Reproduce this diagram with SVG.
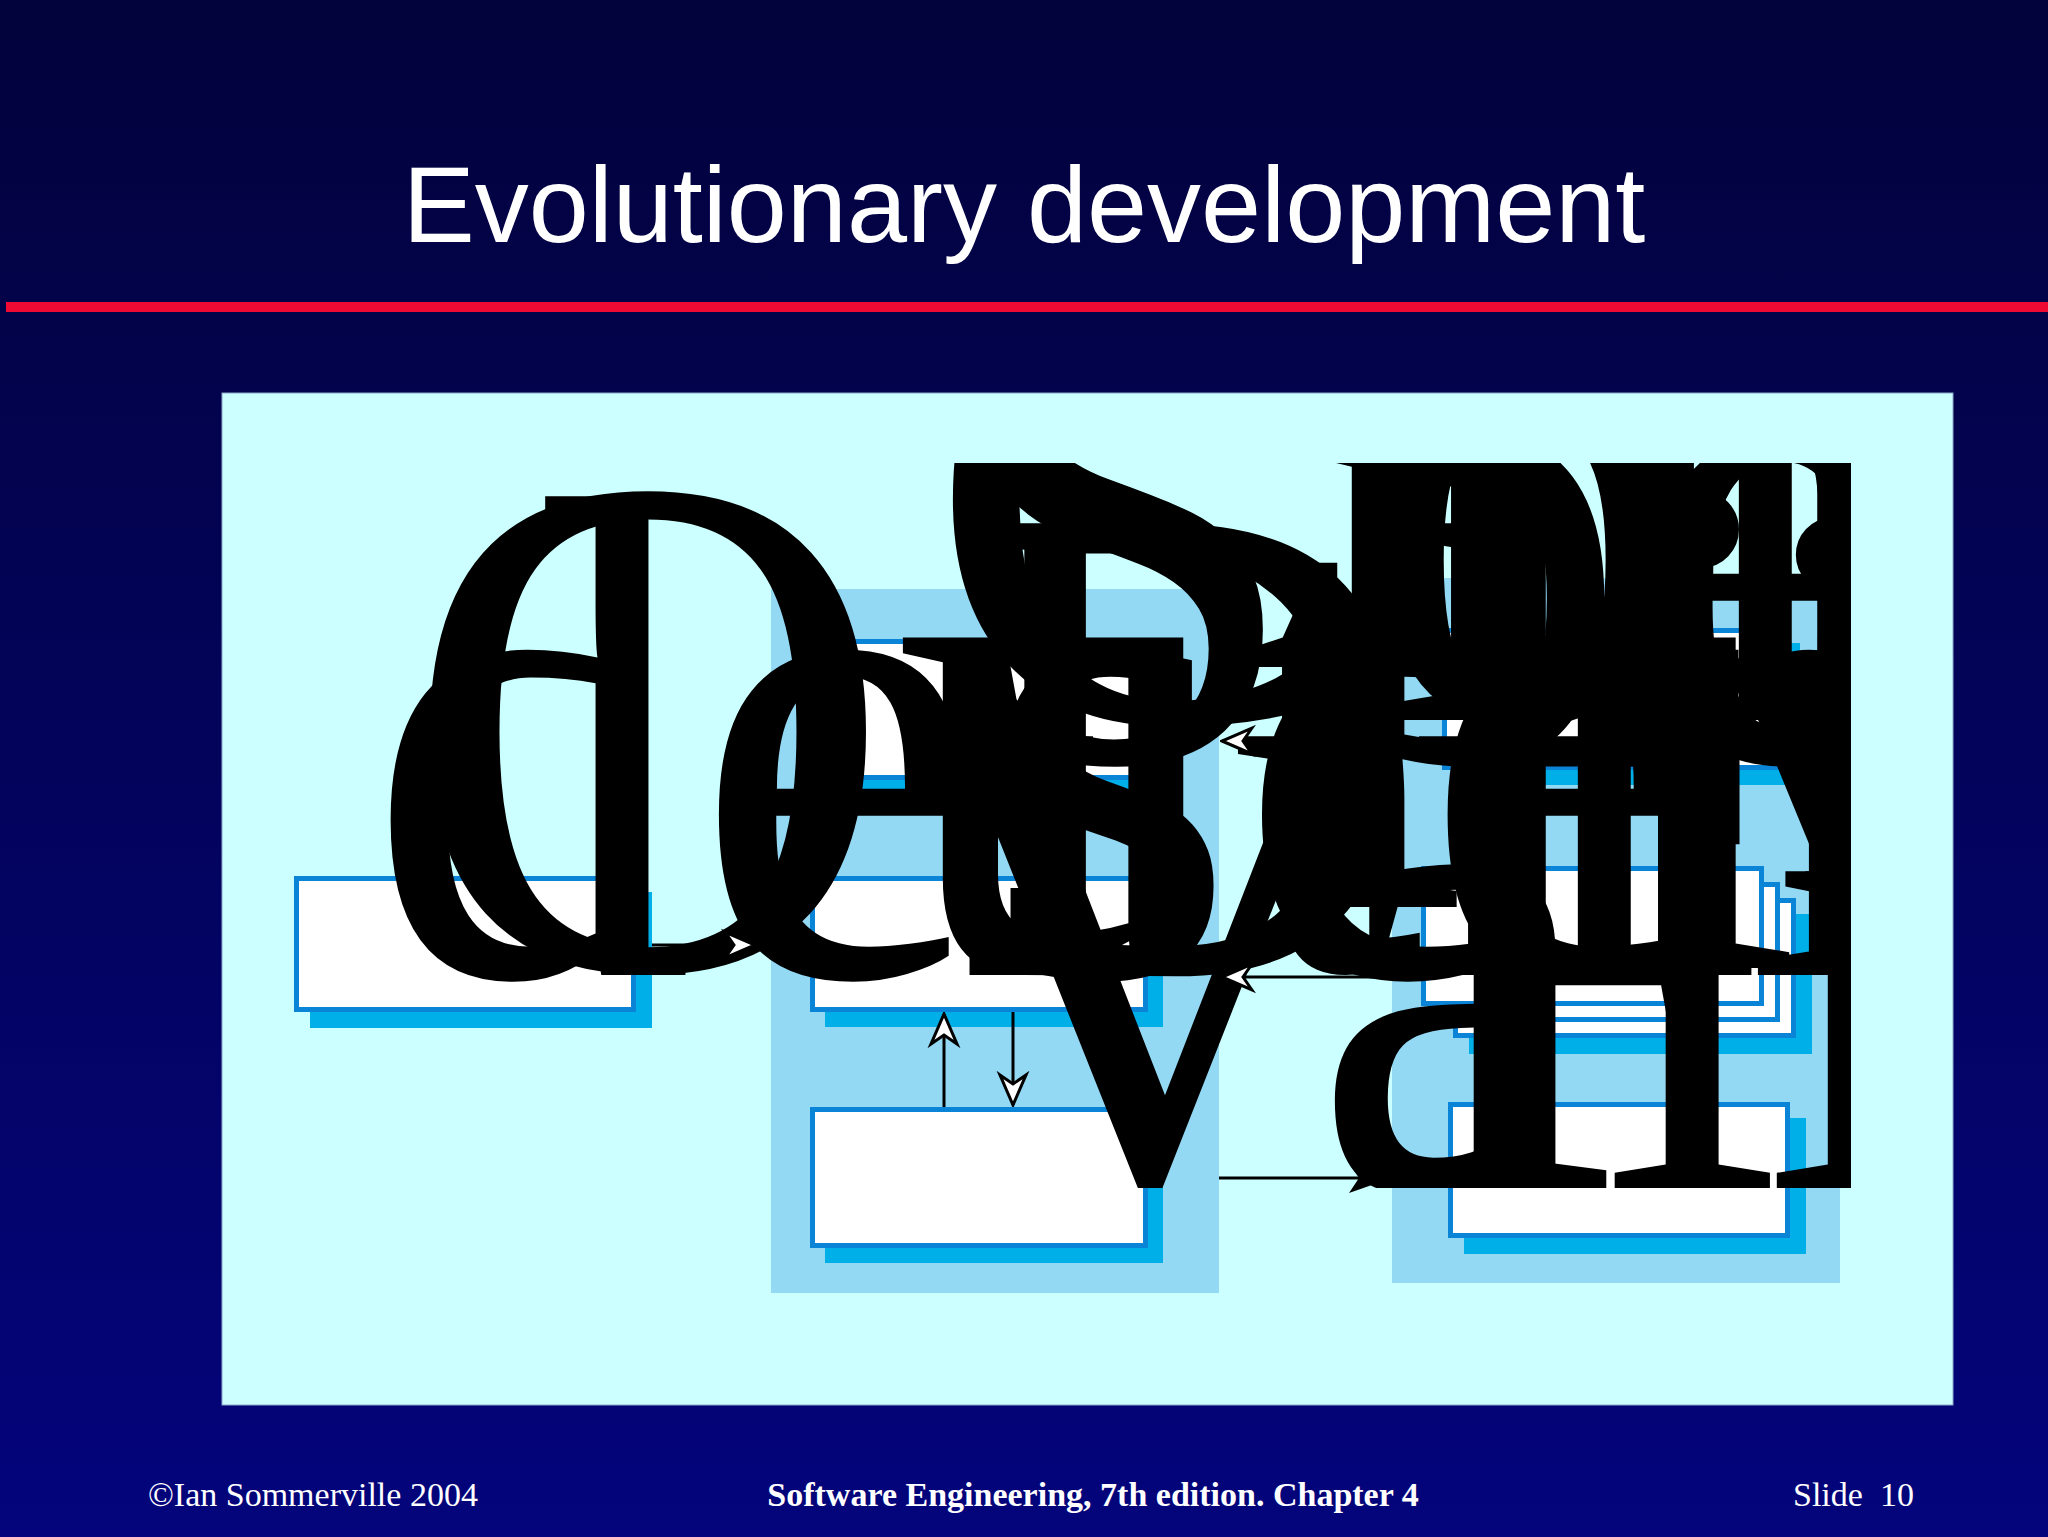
<svg xmlns="http://www.w3.org/2000/svg" width="2048" height="1537" viewBox="0 0 2048 1537">
<defs>
<linearGradient id="bg" x1="0" y1="0" x2="0" y2="1">
<stop offset="0" stop-color="#02023C"/>
<stop offset="1" stop-color="#04047C"/>
</linearGradient>
<clipPath id="blobclip">
<path d="M0,0 H881 V463 H1851 V1188 H881 V1537 H0 Z"/>
</clipPath>
<marker id="hollow" viewBox="-34 -17 36 34" refX="0" refY="0" markerWidth="36" markerHeight="34" markerUnits="userSpaceOnUse" orient="auto">
<path d="M0,0 L-30,-13 L-21,0 L-30,13 Z" fill="#fff" stroke="#000" stroke-width="3"/>
</marker>
<marker id="solid" viewBox="-46 -17 48 34" refX="0" refY="0" markerWidth="48" markerHeight="34" markerUnits="userSpaceOnUse" orient="auto">
<path d="M0,0 L-43,-15 L-33,0 L-43,15 Z" fill="#000"/>
</marker>
<style>
.title{font-family:"Liberation Sans",Arial,sans-serif;font-size:108px;fill:#fff}
.foot{font-family:"Liberation Serif","Times New Roman",serif;font-size:34px;fill:#fff}
.footb{font-family:"Liberation Serif","Times New Roman",serif;font-size:34px;font-weight:bold;fill:#fff}
.col{fill:#93D9F4}
.shadow{fill:#00AEE8}
.box{fill:#fff;stroke:#0A84D6;stroke-width:5}
.giant{font-family:"Liberation Serif","Times New Roman",serif;font-size:690px;fill:#000}
.conn{stroke:#000;stroke-width:3;fill:none}
</style>
</defs>

<rect width="2048" height="1537" fill="url(#bg)"/>
<text class="title" x="1024" y="242" text-anchor="middle">Evolutionary development</text>
<rect x="6" y="302" width="2042" height="10" fill="#EE0A33"/>

<rect x="222" y="393" width="1731" height="1012" fill="#CCFFFF" stroke="#8CA8C8" stroke-width="1"/>

<g id="concurrent-activities">
<rect class="col" x="771" y="589" width="448" height="704"/>
</g>
<g id="versions-area">
<rect class="col" x="1392" y="578" width="448" height="705"/>
</g>

<g id="outline-description">
<rect class="shadow" x="310" y="892" width="342" height="136"/>
<rect class="box" x="296.5" y="878.5" width="337" height="131"/>
</g>
<g id="specification">
<rect class="shadow" x="825" y="654" width="338" height="141"/>
<rect class="box" x="812.5" y="641.5" width="333" height="136"/>
</g>
<g id="development">
<rect class="shadow" x="825" y="891" width="338" height="136"/>
<rect class="box" x="812.5" y="878.5" width="333" height="131"/>
</g>
<g id="validation">
<rect class="shadow" x="825" y="1122" width="338" height="141"/>
<rect class="box" x="812.5" y="1109.5" width="333" height="136"/>
</g>
<g id="initial-version">
<rect class="shadow" x="1457" y="643" width="343" height="142"/>
<rect class="box" x="1444.5" y="630.5" width="338" height="137"/>
</g>
<g id="intermediate-versions">
<rect class="shadow" x="1469" y="914" width="343" height="140"/>
<rect class="box" x="1455.5" y="900.5" width="338" height="135"/>
<rect class="box" x="1439.5" y="884.5" width="338" height="135"/>
<rect class="box" x="1423.5" y="868.5" width="338" height="135"/>
</g>
<g id="final-version">
<rect class="shadow" x="1464" y="1118" width="342" height="136"/>
<rect class="box" x="1450.5" y="1104.5" width="337" height="131"/>
</g>

<g id="labels" clip-path="url(#blobclip)">
<g transform="matrix(0.946 0 0 1 0 0)">
<text class="giant" x="979" y="720">Concurrent activities</text>
<text class="giant" x="994" y="760">Specification</text>
<text class="giant" x="425" y="968" style="font-size:720px">Outline</text>
<text class="giant" x="388" y="975">description</text>
<text class="giant" x="1005" y="975">Development</text>
<text class="giant" x="1451" y="720">Initial version</text>
<text class="giant" x="1469" y="975">Intermediate versions</text>
<text class="giant" x="965" y="1188">Validation</text>
<text class="giant" x="1480" y="1188">Final version</text>
</g>
</g>

<g id="connectors">
<line class="conn" x1="652" y1="945" x2="755" y2="945" marker-end="url(#hollow)"/>
<line class="conn" x1="944" y1="1107" x2="944" y2="1014" marker-end="url(#hollow)"/>
<line class="conn" x1="1013" y1="1012" x2="1013" y2="1105" marker-end="url(#hollow)"/>
<line class="conn" x1="1392" y1="741" x2="1222" y2="741" marker-end="url(#hollow)"/>
<line class="conn" x1="1392" y1="977" x2="1222" y2="977" marker-end="url(#hollow)"/>
<line class="conn" x1="1219" y1="1178" x2="1392" y2="1178" marker-end="url(#solid)"/>
</g>

<text class="foot" x="148" y="1506">©Ian Sommerville 2004</text>
<text class="footb" x="1093" y="1506" text-anchor="middle">Software Engineering, 7th edition. Chapter 4</text>
<text class="foot" x="1793" y="1506" xml:space="preserve">Slide  10</text>
</svg>
